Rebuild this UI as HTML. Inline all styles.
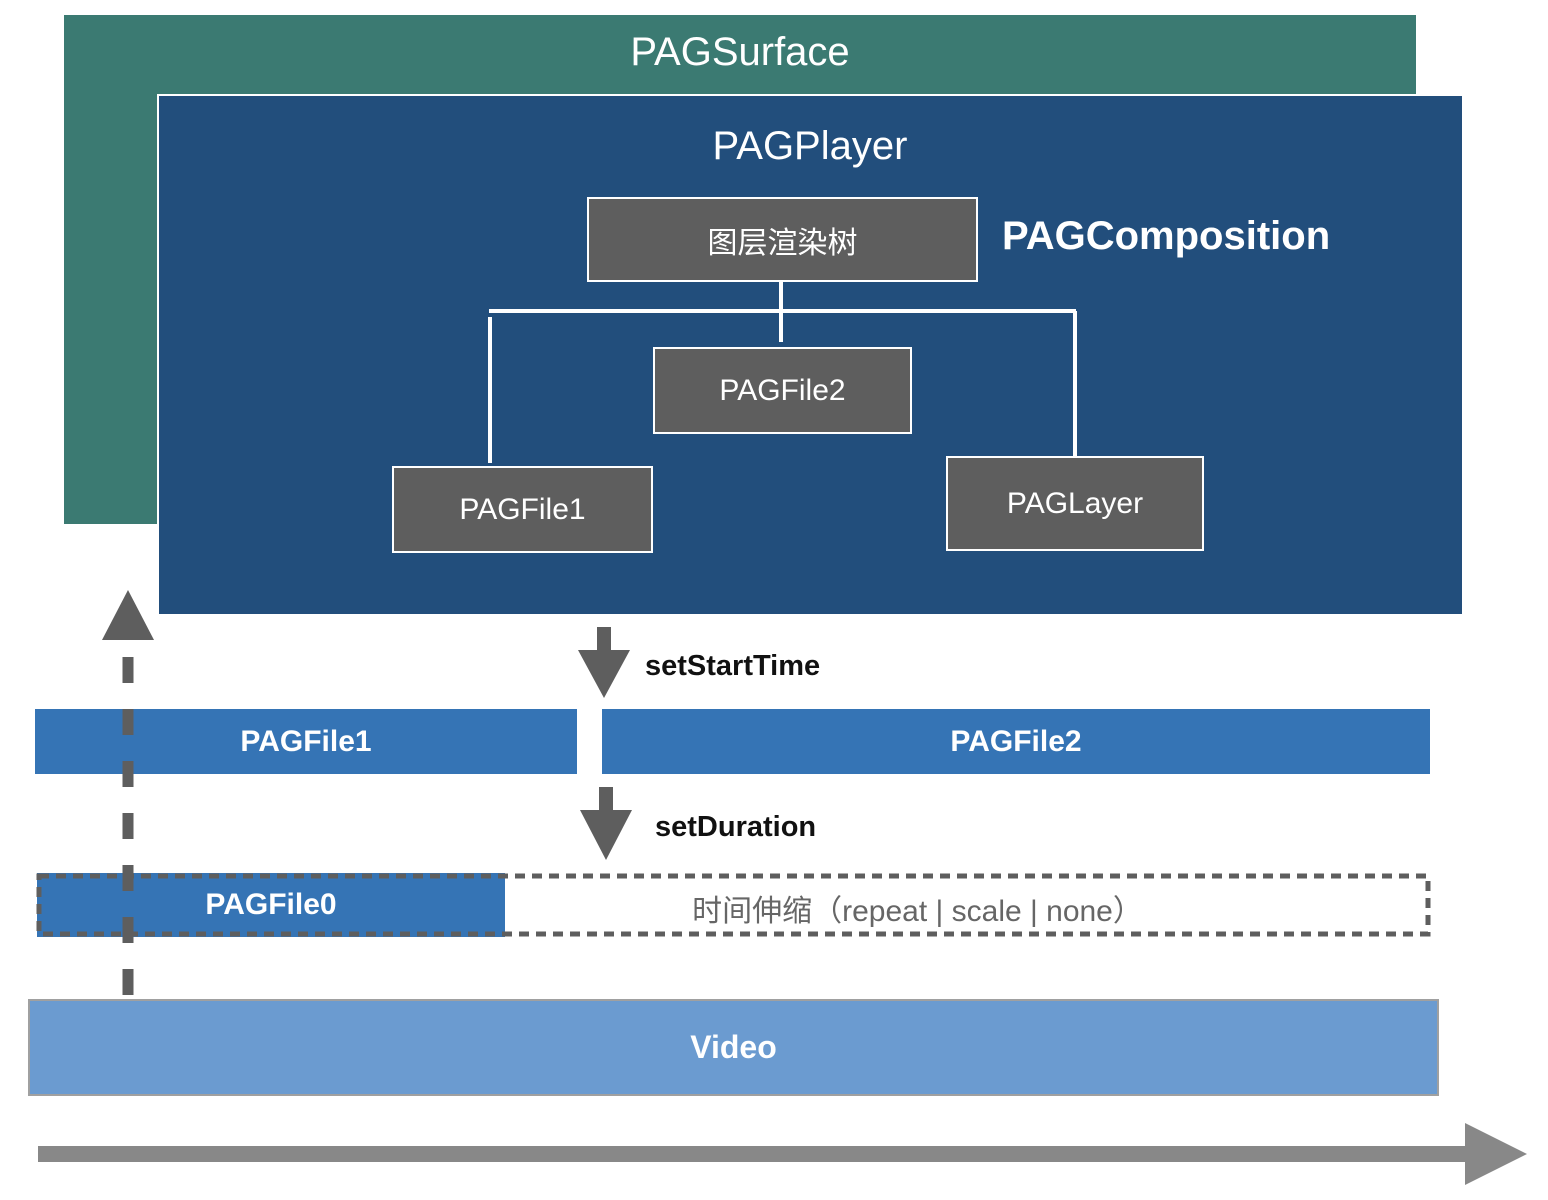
<!DOCTYPE html>
<html><head><meta charset="utf-8"><style>
body{margin:0;width:1548px;height:1200px;background:#fff;position:relative;overflow:hidden;font-family:"Liberation Sans","Noto Sans CJK SC",sans-serif}
.a{position:absolute;box-sizing:border-box}
.t{display:flex;align-items:center;justify-content:center;color:#fff}
.g{background:#5e5e5e;border:2px solid #fff;font-size:30px}
</style></head><body>
<div class="a" style="left:64px;top:15px;width:1352px;height:509px;background:#3b7a72"></div>
<div class="a t" style="left:64px;top:22px;width:1352px;height:60px;font-size:40px">PAGSurface</div>
<div class="a" style="left:157px;top:94px;width:1305px;height:520px;background:#224e7c;border-top:2px solid #fff;border-left:2px solid #fff"></div>
<div class="a t" style="left:610px;top:118px;width:400px;height:56px;font-size:40px">PAGPlayer</div>
<div class="a t" style="left:1002px;top:214px;font-size:40px;font-weight:bold">PAGComposition</div>
<svg class="a" style="left:0;top:0" width="1548" height="1200">
<g stroke="#fff" stroke-width="4" fill="none">
<line x1="781" y1="281" x2="781" y2="342"/>
<line x1="489" y1="311" x2="1076" y2="311"/>
<line x1="490" y1="317" x2="490" y2="463"/>
<line x1="1075" y1="311" x2="1075" y2="457"/>
</g>
<g fill="#5e5e5e">
<polygon points="128,590 154,640 102,640"/>
<rect x="597" y="627" width="14" height="24"/><polygon points="578,650 630,650 604,698"/>
<rect x="599" y="787" width="14" height="24"/><polygon points="580,810 632,810 606,860"/>
</g>
<rect x="35" y="709" width="542" height="65" fill="#3574b5"/>
<rect x="602" y="709" width="828" height="65" fill="#3574b5"/>
<rect x="37" y="873" width="468" height="64" fill="#3574b5"/>
<rect x="39" y="876" width="1389" height="58" fill="none" stroke="#5e5e5e" stroke-width="5" stroke-dasharray="10,7"/>
<line x1="128" y1="657" x2="128" y2="995" stroke="#5e5e5e" stroke-width="11" stroke-dasharray="26,26"/>
<rect x="29" y="1000" width="1409" height="95" fill="#6b9bd0" stroke="#a0a0a0" stroke-width="2"/>
<rect x="38" y="1146" width="1430" height="16" fill="#888"/>
<polygon points="1465,1123 1527,1154 1465,1185" fill="#888"/>
</svg>
<div class="a t g" style="left:587px;top:197px;width:391px;height:85px">图层渲染树</div>
<div class="a t g" style="left:653px;top:347px;width:259px;height:87px">PAGFile2</div>
<div class="a t g" style="left:392px;top:466px;width:261px;height:87px">PAGFile1</div>
<div class="a t g" style="left:946px;top:456px;width:258px;height:95px">PAGLayer</div>
<div class="a" style="left:645px;top:650px;font-size:29px;font-weight:bold;color:#111">setStartTime</div>
<div class="a" style="left:655px;top:811px;font-size:29px;font-weight:bold;color:#111">setDuration</div>
<div class="a t" style="left:35px;top:709px;width:542px;height:65px;font-size:30px;font-weight:bold">PAGFile1</div>
<div class="a t" style="left:602px;top:709px;width:828px;height:65px;font-size:30px;font-weight:bold">PAGFile2</div>
<div class="a t" style="left:37px;top:873px;width:468px;height:64px;font-size:30px;font-weight:bold">PAGFile0</div>
<div class="a t" style="left:505px;top:876px;width:825px;height:64px;font-size:30px;color:#666">时间伸缩（repeat | scale | none）</div>
<div class="a t" style="left:29px;top:1000px;width:1409px;height:95px;font-size:32px;font-weight:bold">Video</div>
</body></html>
